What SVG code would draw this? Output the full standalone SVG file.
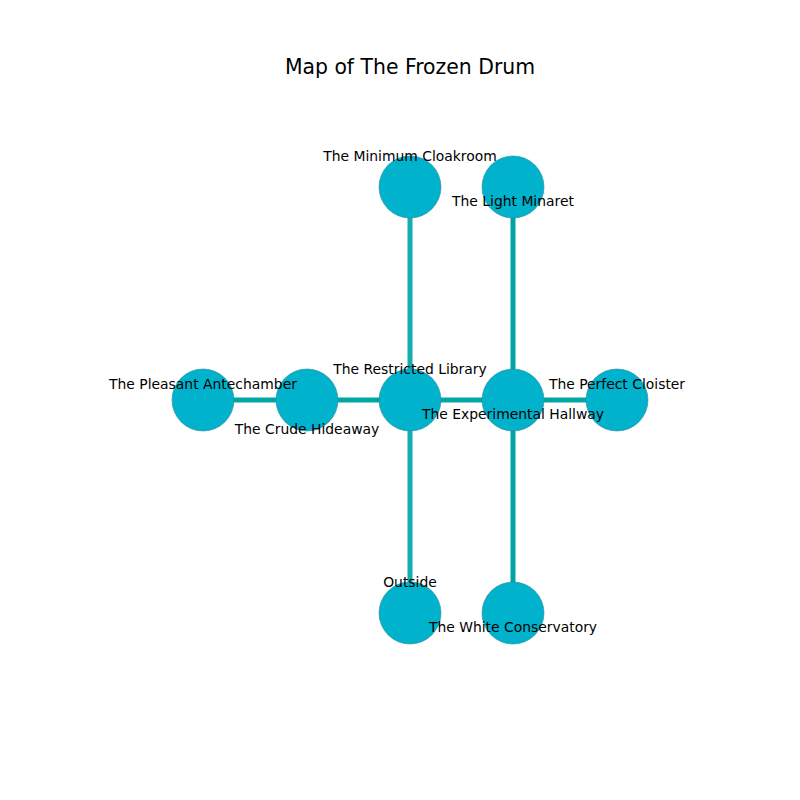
<svg xmlns="http://www.w3.org/2000/svg" width="800" height="800" viewBox="0 0 800 800">
<style>
.node{fill:#00b2cb;stroke:#2e8a99;stroke-width:0.6}
.e1{stroke:#16adb0;stroke-width:5;fill:none}
.e2{stroke:#00a6a4;stroke-width:5;fill:none}
.lbl{font-family:"DejaVu Sans",sans-serif;font-size:13.9px;fill:#000;text-anchor:middle;dominant-baseline:central}
.title{font-family:"DejaVu Sans",sans-serif;font-size:20.4px;fill:#000;text-anchor:middle;dominant-baseline:central}
</style>
<rect width="800" height="800" fill="#fff"/>
<text class="title" x="410" y="67">Map of The Frozen Drum</text>
<g id="connectors">
<line class="e1" x1="410" y1="187" x2="410" y2="400"/>
<line class="e2" x1="513" y1="187" x2="513" y2="400"/>
<line class="e2" x1="203" y1="400" x2="307" y2="400"/>
<line class="e2" x1="307" y1="400" x2="410" y2="400"/>
<line class="e2" x1="410" y1="400" x2="513" y2="400"/>
<line class="e2" x1="513" y1="400" x2="617" y2="400"/>
<line class="e1" x1="410" y1="400" x2="410" y2="613"/>
<line class="e2" x1="513" y1="400" x2="513" y2="613"/>
</g>
<g id="n-minimum"><circle class="node" cx="410" cy="187" r="31"/></g>
<g id="n-minaret"><circle class="node" cx="513" cy="187" r="31"/></g>
<g id="n-antechamber"><circle class="node" cx="203" cy="400" r="31"/></g>
<g id="n-hideaway"><circle class="node" cx="307" cy="400" r="31"/></g>
<g id="n-library"><circle class="node" cx="410" cy="400" r="31"/></g>
<g id="n-hallway"><circle class="node" cx="513" cy="400" r="31"/></g>
<g id="n-cloister"><circle class="node" cx="617" cy="400" r="31"/></g>
<g id="n-outside"><circle class="node" cx="410" cy="613" r="31"/></g>
<g id="n-conservatory"><circle class="node" cx="513" cy="613" r="31"/></g>
<g id="labels">
<text class="lbl" x="410" y="156">The Minimum Cloakroom</text>
<text class="lbl" x="513" y="201">The Light Minaret</text>
<text class="lbl" x="203" y="384">The Pleasant Antechamber</text>
<text class="lbl" x="307" y="429">The Crude Hideaway</text>
<text class="lbl" x="410" y="369">The Restricted Library</text>
<text class="lbl" x="513" y="414">The Experimental Hallway</text>
<text class="lbl" x="617" y="384">The Perfect Cloister</text>
<text class="lbl" x="410" y="582">Outside</text>
<text class="lbl" x="513" y="627">The White Conservatory</text>
</g>
</svg>
